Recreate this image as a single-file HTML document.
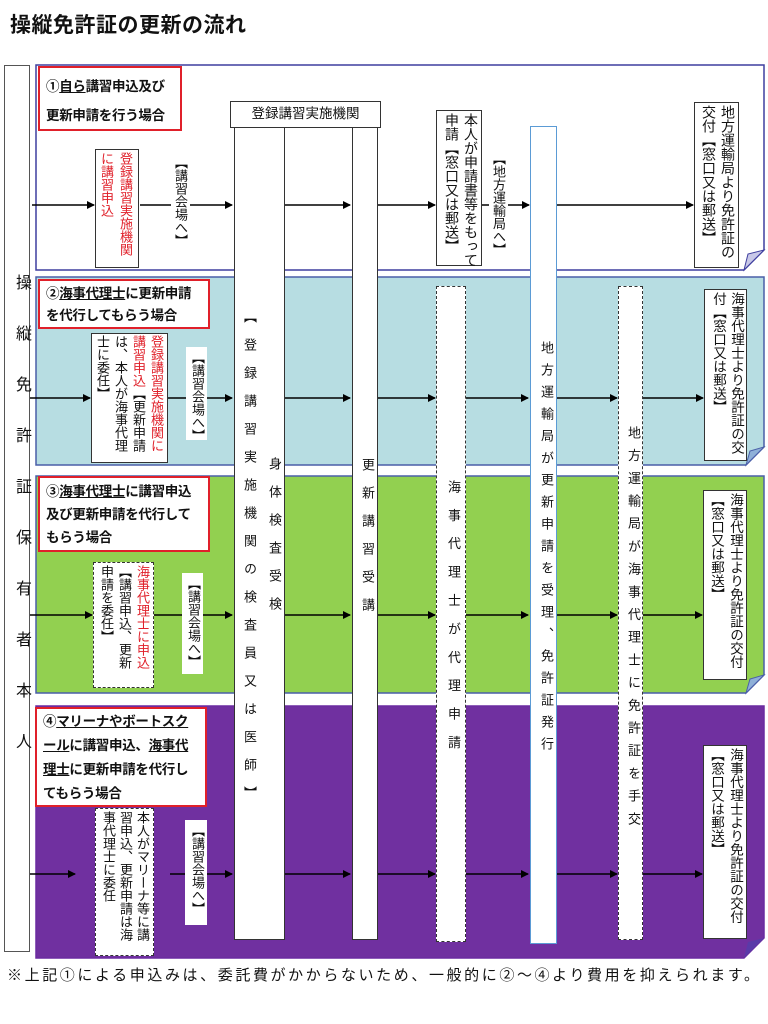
<!DOCTYPE html>
<html><head><meta charset="utf-8"><style>
*{margin:0;padding:0;box-sizing:border-box}
body{width:768px;height:1024px;background:#fff;position:relative;overflow:hidden;font-family:"Liberation Sans","Noto Sans CJK JP",sans-serif;color:#111}
.a{position:absolute}
.v{position:absolute;writing-mode:vertical-rl;white-space:nowrap}
.box{position:absolute;background:#fff;border:1.5px solid #333;writing-mode:vertical-rl;white-space:nowrap;font-size:13.5px;line-height:16px;padding:2px 1px}
.red{color:#e0202a}
.lab{position:absolute;background:#fff;border:2px solid #e0202a;font-weight:bold;font-size:13.5px;line-height:29px;padding:2px 6px;color:#111;white-space:nowrap;letter-spacing:-0.3px}
.lab u{text-decoration:underline}
.col{position:absolute;background:#fff;border:1.2px solid #333}
.dash{border-style:dashed !important;border-width:1.5px !important}
</style></head><body>
<div class="a" style="left:10px;top:9px;font-size:21px;font-weight:bold;letter-spacing:0.5px">操縦免許証の更新の流れ</div>

<svg class="a" style="left:0;top:0" width="768" height="1024">
<defs><marker id="m" markerWidth="8" markerHeight="8" refX="7" refY="4" orient="auto" markerUnits="userSpaceOnUse"><path d="M0,0 L8,4 L0,8 Z" fill="#000"/></marker></defs>
<path d="M36,65 H764 V250 L744,270 H36 Z" fill="#fff" stroke="#3f3f9f" stroke-width="1.5"/>
<path d="M744,270 L748,254 L764,250 Z" fill="#c8c8e8" stroke="#3f3f9f"/>
<path d="M36,277 H764 V447 L746,465 H36 Z" fill="#b7dde2" stroke="#4a5fa8" stroke-width="1.5"/>
<path d="M746,465 L750,451 L764,447 Z" fill="#8fb0d8" stroke="#4a5fa8"/>
<path d="M36,476 H764 V675 L746,693 H36 Z" fill="#92d050" stroke="#4a5fa8" stroke-width="1.5"/>
<path d="M746,693 L750,679 L764,675 Z" fill="#8fb0d8" stroke="#4a5fa8"/>
<path d="M36,706 H764 V938 L744,958 H36 Z" fill="#7030a0" stroke="#6a2aa0" stroke-width="1.5"/>
<path d="M744,958 L748,942 L764,938 Z" fill="#5a3aa8"/>
<g stroke="#000" stroke-width="1.5" marker-end="url(#m)">
<line x1="32" y1="205" x2="94" y2="205"/><line x1="140" y1="205" x2="232" y2="205"/><line x1="284" y1="205" x2="350" y2="205"/><line x1="378" y1="205" x2="435" y2="205"/><line x1="482" y1="205" x2="529" y2="205"/><line x1="557" y1="205" x2="693" y2="205"/>
<line x1="30" y1="398" x2="90" y2="398"/><line x1="168" y1="398" x2="232" y2="398"/><line x1="284" y1="398" x2="350" y2="398"/><line x1="378" y1="398" x2="435" y2="398"/><line x1="466" y1="398" x2="528" y2="398"/><line x1="556" y1="398" x2="617" y2="398"/><line x1="642" y1="398" x2="703" y2="398"/>
<line x1="30" y1="615" x2="92" y2="615"/><line x1="153" y1="615" x2="232" y2="615"/><line x1="284" y1="615" x2="350" y2="615"/><line x1="378" y1="615" x2="435" y2="615"/><line x1="466" y1="615" x2="528" y2="615"/><line x1="556" y1="615" x2="617" y2="615"/><line x1="642" y1="615" x2="702" y2="615"/>
<line x1="24" y1="874" x2="75" y2="874"/><line x1="170" y1="874" x2="232" y2="874"/><line x1="284" y1="874" x2="350" y2="874"/><line x1="378" y1="874" x2="435" y2="874"/><line x1="466" y1="874" x2="528" y2="874"/><line x1="556" y1="874" x2="617" y2="874"/><line x1="642" y1="874" x2="702" y2="874"/>
</g>
</svg>

<!-- left column -->
<div class="col" style="left:4px;top:65px;width:26px;height:887px;border-color:#555"></div>
<div class="v" style="left:9px;top:274px;font-size:16px;letter-spacing:35px">操縦免許証保有者本人</div>

<!-- center columns -->
<div class="col" style="left:230px;top:101px;width:151px;height:27px;font-size:13.5px;text-align:center;line-height:24px">登録講習実施機関</div>
<div class="col" style="left:234px;top:127px;width:51px;height:813px"></div>
<div class="v" style="left:240px;top:310px;font-size:13px;letter-spacing:15px">【登録講習実施機関の検査員又は医師】</div>
<div class="v" style="left:265px;top:457px;font-size:13px;letter-spacing:15px">身体検査受検</div>
<div class="col" style="left:352px;top:127px;width:26px;height:813px"></div>
<div class="v" style="left:358px;top:458px;font-size:13px;letter-spacing:15px">更新講習受講</div>
<div class="col dash" style="left:436px;top:286px;width:30px;height:656px"></div>
<div class="v" style="left:444px;top:480px;font-size:13px;letter-spacing:15.4px">海事代理士が代理申請</div>
<div class="col" style="left:530px;top:126px;width:27px;height:818px;border-color:#5b9bd5;border-width:1.5px"></div>
<div class="v" style="left:537px;top:341px;font-size:13px;letter-spacing:9px">地方運輸局が更新申請を受理、免許証発行</div>
<div class="col dash" style="left:618px;top:286px;width:25px;height:654px"></div>
<div class="v" style="left:624px;top:426px;font-size:13px;letter-spacing:9.7px">地方運輸局が海事代理士に免許証を手交</div>

<!-- section labels -->
<div class="lab" style="left:38px;top:66px;width:144px;height:65px;line-height:29px;padding-top:4px">①<u>自ら</u>講習申込及び<br>更新申請を行う場合</div>
<div class="lab" style="left:38px;top:279px;width:172px;height:50px;line-height:22px;padding-top:2px">②<u>海事代理士</u>に更新申請<br>を代行してもらう場合</div>
<div class="lab" style="left:38px;top:476px;width:172px;height:76px;line-height:23px;padding-top:2px">③<u>海事代理士</u>に講習申込<br>及び更新申請を代行して<br>もらう場合</div>
<div class="lab" style="left:35px;top:707px;width:172px;height:100px;line-height:24px;padding-top:1px">④<u>マリーナやボートスク<br>ール</u>に講習申込、<u>海事代<br>理士</u>に更新申請を代行し<br>てもらう場合</div>

<!-- section 1 -->
<div class="box" style="left:95px;top:149px;width:44px;height:119px;font-size:13px;line-height:19px;padding:2px 3px"><span class="red">登録講習実施機関<br>に講習申込</span></div>
<div class="v" style="left:171px;top:152px;font-size:13px;background:#fff;padding:4px 2px;line-height:15px">【講習会場へ】</div>
<div class="box" style="left:436px;top:110px;width:46px;height:156px;font-size:14px;line-height:19px">本人が申請書等をもって<br>申請【窓口又は郵送】</div>
<div class="v" style="left:489px;top:150px;font-size:13px;background:#fff;padding:2px 2px;line-height:15px">【地方運輸局へ】</div>
<div class="box" style="left:694px;top:102px;width:45px;height:166px;font-size:14px;line-height:19px">地方運輸局より免許証の<br>交付【窓口又は郵送】</div>

<!-- section 2 -->
<div class="box" style="left:91px;top:333px;width:77px;height:130px;font-size:13px;line-height:18px;padding:1px 2px"><span class="red">登録講習実施機関に<br>講習申込</span>【更新申請<br>は、本人が海事代理<br>士に委任】</div>
<div class="v" style="left:186px;top:347px;width:21px;height:93px;font-size:13px;background:#fff;padding:4px 2px;line-height:15px">【講習会場へ】</div>
<div class="box" style="left:704px;top:289px;width:43px;height:172px;font-size:13.5px;line-height:18px">海事代理士より免許証の交<br>付【窓口又は郵送】</div>

<!-- section 3 -->
<div class="box dash" style="left:93px;top:562px;width:61px;height:126px;font-size:13px;line-height:18px;padding:2px 2px"><span class="red">海事代理士に申込</span><br>【講習申込、更新<br>申請を委任】</div>
<div class="v" style="left:182px;top:573px;width:21px;height:101px;font-size:13px;background:#fff;padding:4px 2px;line-height:15px">【講習会場へ】</div>
<div class="box" style="left:703px;top:490px;width:44px;height:190px;font-size:13.5px;line-height:19px">海事代理士より免許証の交付<br>【窓口又は郵送】</div>

<!-- section 4 -->
<div class="box dash" style="left:95px;top:808px;width:59px;height:148px;font-size:13px;line-height:17px;padding:2px 2px">本人がマリーナ等に講<br>習申込、更新申請は海<br>事代理士に委任</div>
<div class="v" style="left:185px;top:820px;width:22px;height:105px;font-size:13px;background:#fff;padding:4px 2px;line-height:15px">【講習会場へ】</div>
<div class="box" style="left:703px;top:745px;width:44px;height:194px;font-size:13.5px;line-height:19px">海事代理士より免許証の交付<br>【窓口又は郵送】</div>

<div class="a" style="left:7px;top:964px;font-size:15px;white-space:nowrap;letter-spacing:2.6px">※上記①による申込みは、委託費がかからないため、一般的に②～④より費用を抑えられます。</div>
</body></html>
